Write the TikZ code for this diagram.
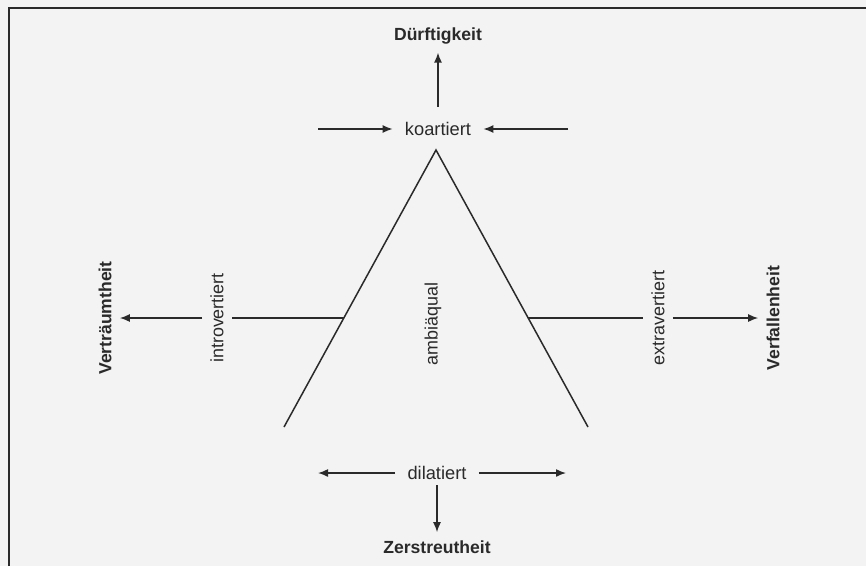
\documentclass[tikz,border=0pt]{standalone}
\usepackage{fontspec}
\setsansfont{Liberation Sans}
\usepackage{tikz}
\usetikzlibrary{arrows.meta}
\usepackage{xcolor}
\definecolor{InkGray}{HTML}{2A2A2A}
\definecolor{PaperGray}{HTML}{F3F3F3}

\begin{document}
\begin{tikzpicture}[x=0.2mm, y=-0.2mm,
    pole/.style={font=\sffamily\bfseries\fontsize{10}{12}\selectfont, text=InkGray, inner sep=1.6mm},
    sidepole/.style={pole, rotate=90, inner xsep=0pt},
    state/.style={font=\sffamily\fontsize{10.4}{12}\selectfont, text=InkGray, inner xsep=2.4mm, inner ysep=1mm},
    side/.style={font=\sffamily\fontsize{10.2}{12}\selectfont, text=InkGray, rotate=90, inner xsep=0pt, inner ysep=1.6mm},
    ln/.style={draw=InkGray, line width=0.3mm},
    arr/.style={ln, -{Latex[length=2mm, width=1.6mm]}}
  ]
    \fill[PaperGray] (0,0) rectangle (866,566);
    \useasboundingbox (0,0) rectangle (866,566);
    \draw[InkGray, line width=0.45mm] (9,566) -- (9,8) -- (866,8);

    \node[pole] (dft) at (438,36) {Dürftigkeit};
    \node[state] (kor) at (438,129) {koartiert};
    \node[state] (dil) at (437,473) {dilatiert};
    \node[pole] (zer) at (437,547) {Zerstreutheit};

    \node[sidepole] (vtr) at (105,318) {Verträumtheit};
    \node[side] (intro) at (217,318) {introvertiert};
    \node[side] (amb) at (433,324) {ambiäqual};
    \node[side] (extra) at (658,318) {extravertiert};
    \node[sidepole] (vfl) at (773,318) {Verfallenheit};

    \coordinate (apex) at (436,150);
    \coordinate (bl) at (284,427);
    \coordinate (br) at (588,427);
    \coordinate (lx) at (344,318);
    \coordinate (rx) at (528,318);
    \coordinate (kl) at (318,129);
    \coordinate (kr) at (568,129);
    \coordinate (dl) at (318,473);
    \coordinate (dr) at (566,473);

    \draw[ln] (bl) -- (apex) -- (br);

    \draw[arr, shorten <=2mm] (kor) -- (dft);
    \draw[arr] (kl) -- (kor);
    \draw[arr] (kr) -- (kor);

    \draw[arr] (dil) -- (zer);
    \draw[arr] (dil) -- (dl);
    \draw[arr] (dil) -- (dr);

    \draw[ln] (lx) -- (intro);
    \draw[arr] (intro) -- (vtr);
    \draw[ln] (rx) -- (extra);
    \draw[arr] (extra) -- (vfl);
  \end{tikzpicture}
\end{document}
